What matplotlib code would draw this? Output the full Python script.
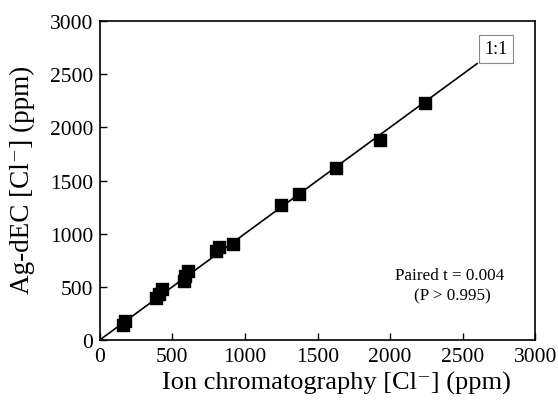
import matplotlib
matplotlib.use("Agg")
import matplotlib.pyplot as plt

ic_x = [160, 175, 390, 410, 425, 580, 590, 610, 800, 820, 920, 1250, 1370, 1630, 1930, 2240]
agdec_y = [140, 175, 390, 430, 480, 550, 600, 650, 840, 870, 900, 1270, 1370, 1620, 1880, 2230]
line_x = [0, 2600]
line_y = [0, 2600]
ticks = [0, 500, 1000, 1500, 2000, 2500, 3000]

plt.rcParams['font.family'] = ['Liberation Serif', 'DejaVu Serif']

fig = plt.figure(figsize=(5.58, 4.02), dpi=100)
ax = fig.add_axes([0.179, 0.152, 0.780, 0.793])
ax.plot(line_x, line_y, color='black', lw=1.2, zorder=2)
ax.scatter(ic_x, agdec_y, marker='s', s=85, color='black', zorder=3)
ax.set_xlim(0, 3000)
ax.set_ylim(0, 3000)
ax.set_xticks(ticks)
ax.set_yticks(ticks)
ax.tick_params(direction='in', labelsize=15.5, length=5, width=1, pad=5)
for s in ax.spines.values():
    s.set_linewidth(1.2)
ax.set_xlabel('Ion chromatography [Cl\u207b] (ppm)', fontsize=19)
ax.set_ylabel('Ag-dEC [Cl\u207b] (ppm)', fontsize=19.5)
ax.xaxis.set_label_coords(0.543, -0.098)
ax.yaxis.set_label_coords(-0.150, 0.505)
ax.text(2414, 611, 'Paired t = 0.004', ha='center', va='center', fontsize=12.3)
ax.text(2430, 423, '(P > 0.995)', ha='center', va='center', fontsize=12.3)
ax.text(2731, 2740, '1:1', ha='center', va='center', fontsize=13,
        bbox=dict(boxstyle='square,pad=0.3', fc='white', ec='#888888', lw=0.8))
fig.savefig('out.png', dpi=100)
